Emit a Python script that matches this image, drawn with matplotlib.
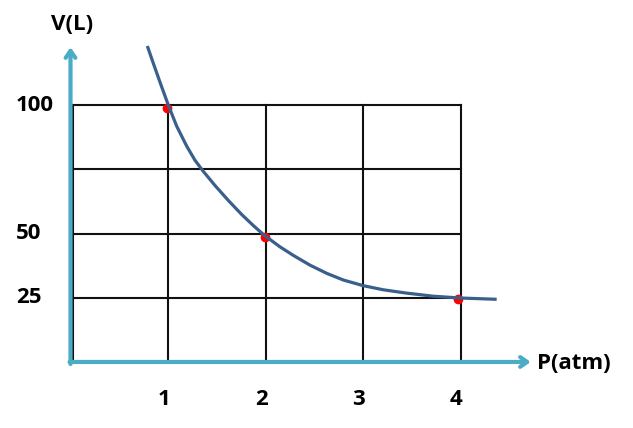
import matplotlib.pyplot as plt

# Boyle's law sketch: V vs P
grid_x = [1, 2, 3, 4]
grid_y = [25, 50, 75, 100]
x_labels = ['1', '2', '3', '4']
y_ticks = [100, 50, 25]
y_labels = ['100', '50', '25']

# curve
curve_p = [0.788, 0.849, 0.918, 1.003, 1.089, 1.192, 1.277, 1.362, 1.482, 1.618,
           1.756, 1.875, 1.985, 2.149, 2.285, 2.456, 2.628, 2.798, 3.003, 3.208,
           3.448, 3.721, 3.995, 4.371]
curve_v = [123.0, 116.3, 108.9, 100.0, 91.8, 84.0, 78.5, 74.2, 68.7, 62.9,
           57.4, 53.1, 49.4, 44.8, 41.5, 37.7, 34.5, 31.9, 29.7, 28.1,
           26.8, 25.6, 24.9, 24.4]

# measured points
pts_p = [0.99, 1.99, 3.97]
pts_v = [98.7, 48.8, 24.5]

axis_col = '#4bacc6'
curve_col = '#3a5f8b'
font = ['Open Sans', 'DejaVu Sans']

fig = plt.figure(figsize=(6.33, 4.28), dpi=100)
ax = fig.add_axes([0, 0, 1, 1])
ax.set_xlim(-0.723, 5.769)
ax.set_ylim(-25.7, 140.9)
ax.axis('off')

# grid
for gx in grid_x:
    ax.plot([gx, gx], [0, 100], color='#111111', lw=1.5, zorder=1)
ax.plot([0.03, 0.03], [0, 100], color='#111111', lw=1.5, zorder=1)
for gy in grid_y:
    ax.plot([0.03, 4], [gy, gy], color='#111111', lw=1.5, zorder=1)

# axes arrows
ax.annotate('', xy=(4.72, 0), xytext=(-0.01, 0),
            arrowprops=dict(arrowstyle='->,head_length=0.5,head_width=0.35',
                            color=axis_col, lw=3, shrinkA=0, shrinkB=0), zorder=3)
ax.annotate('', xy=(0, 122.5), xytext=(0, -0.8),
            arrowprops=dict(arrowstyle='->,head_length=0.5,head_width=0.35',
                            color=axis_col, lw=3, shrinkA=0, shrinkB=0), zorder=3)

ax.plot(pts_p, pts_v, 'o', color='#ff0000', ms=6, zorder=4)
ax.plot(curve_p, curve_v, color=curve_col, lw=2.3, zorder=5,
        solid_capstyle='butt', solid_joinstyle='round')

for gx, lab in zip(grid_x, x_labels):
    ax.annotate(lab, xy=(gx, -14.5), xytext=(-3, 0), textcoords='offset points',
                ha='center', va='center', fontsize=16, fontweight='bold', family=font)
for gy, lab in zip(y_ticks, y_labels):
    ax.text(-0.56, gy, lab, ha='left', va='center', fontsize=16,
            fontweight='bold', family=font)

ax.text(0.02, 131.5, 'V(L)', ha='center', va='center', fontsize=16,
        fontweight='bold', family=font)
ax.text(4.78, -0.5, 'P(atm)', ha='left', va='center', fontsize=16,
        fontweight='bold', family=font)

fig.savefig('out.png', dpi=100)
